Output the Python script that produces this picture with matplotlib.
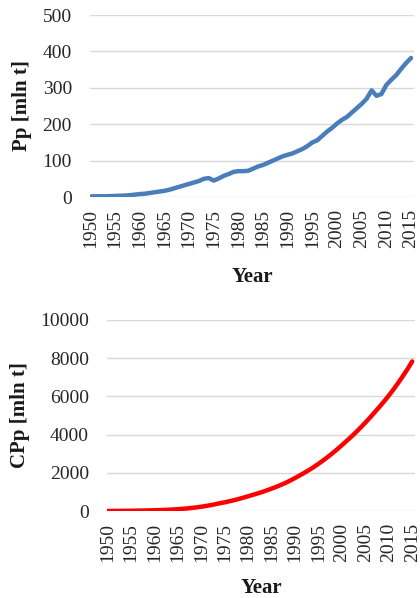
import matplotlib
matplotlib.use("Agg")
import matplotlib.pyplot as plt

# data
years = list(range(1950, 2016))

# yearly plastics production [mln t]
pp = [1.5, 2, 2, 2, 2.5, 3, 3.5, 4, 5, 6.5,
      8, 9, 11, 13, 15, 17, 20, 24, 28, 32,
      36, 40, 44, 50, 52, 45, 51, 58, 63, 69,
      71, 71, 72, 78, 84, 88, 94, 100, 106, 112,
      116, 120, 126, 132, 140, 150, 156, 168, 180, 190,
      202, 212, 220, 232, 244, 256, 270, 293, 278, 283,
      308, 322, 335, 352, 368, 382]

# cumulative plastics production [mln t]
cpp = [2, 4, 6, 8, 11, 14, 18, 22, 27, 33,
       40, 48, 57, 68, 81, 96, 114, 135, 160, 190,
       225, 262, 305, 355, 408, 455, 508, 566, 630, 700,
       772, 845, 918, 995, 1080, 1170, 1265, 1365, 1475, 1595,
       1725, 1860, 2000, 2145, 2300, 2470, 2645, 2830, 3025, 3230,
       3445, 3665, 3890, 4125, 4370, 4625, 4890, 5170, 5450, 5735,
       6040, 6360, 6700, 7060, 7430, 7830]

year_ticks = list(range(1950, 2016, 5))
pp_ticks = [0, 100, 200, 300, 400, 500]
cpp_ticks = [0, 2000, 4000, 6000, 8000, 10000]

plt.rcParams['font.family'] = ['Liberation Serif', 'DejaVu Serif']

W, H = 420, 598
fig = plt.figure(figsize=(W / 100, H / 100), dpi=100)


def px_axes(left, top, right, bottom):
    return fig.add_axes([left / W, 1 - bottom / H, (right - left) / W, (bottom - top) / H])


def style(ax, yticks, ylabel, ylabel_x, xlabel_y):
    ax.set_xlim(1949.9, 2015.6)
    ax.set_ylim(yticks[0], yticks[-1])
    ax.set_xticks(year_ticks)
    ax.set_yticks(yticks)
    for s in ax.spines.values():
        s.set_visible(False)
    ax.grid(axis='y', color='#d9d9d9', linewidth=1.0)
    ax.set_axisbelow(True)
    ax.tick_params(axis='x', length=0, pad=8.5, labelsize=14, rotation=90, colors='#262626')
    ax.tick_params(axis='y', length=0, pad=13, labelsize=14, colors='#262626')
    ax.set_ylabel(ylabel, fontsize=15, fontweight='bold', color='#1a1a1a')
    ax.yaxis.set_label_coords(ylabel_x, 0.5)
    ax.set_xlabel('Year', fontsize=15, fontweight='bold', color='#1a1a1a', va='center')
    ax.xaxis.set_label_coords(0.5, xlabel_y)


# annual production
ax1 = px_axes(90, 15, 414, 197)
ax1.plot(years, pp, color='#4a7ebb', linewidth=3.2, solid_capstyle='round', solid_joinstyle='round')
style(ax1, pp_ticks, 'Pp [mln t]', -0.18, -0.442)

# cumulative production
ax2 = px_axes(107, 320, 415, 511)
ax2.plot(years, cpp, color='#ff0000', linewidth=3.2, solid_capstyle='round', solid_joinstyle='round')
style(ax2, cpp_ticks, 'CPp [mln t]', -0.25, -0.402)

fig.savefig('out.png', dpi=100)
